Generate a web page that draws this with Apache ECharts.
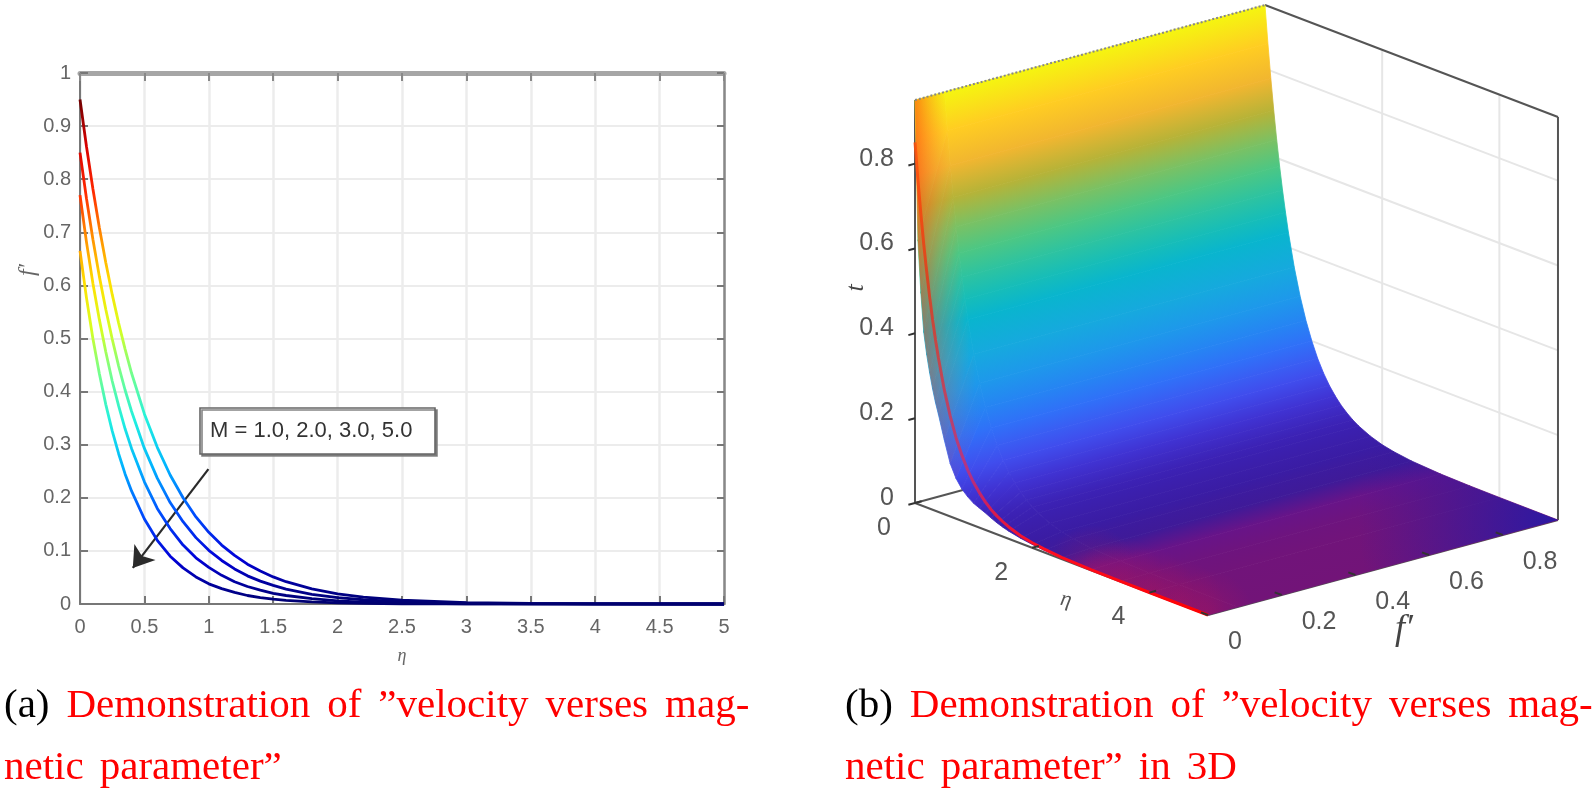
<!DOCTYPE html>
<html>
<head>
<meta charset="utf-8">
<title>velocity verses magnetic parameter</title>
<style>
  html, body { margin: 0; padding: 0; background: #fff; }
  #chart, #captions { position: absolute; left: 0; top: 0; width: 1594px; height: 793px; }
  /* the source figure is a soft, enlarged raster */
  #chart { filter: blur(0.7px); }
</style>
<script src="https://cdn.jsdelivr.net/npm/echarts@6/dist/echarts.min.js"></script>
</head>
<body>
<div id="chart"></div>
<div id="captions"></div>
<script>
// values
var etaGrid = [0, 0.05, 0.1, 0.15, 0.2, 0.25, 0.3, 0.35, 0.4, 0.5, 0.6, 0.7, 0.8, 0.9, 1, 1.1, 1.2, 1.3, 1.4, 1.5, 1.6, 1.8, 2, 2.2, 2.5, 3, 3.5, 4, 5];
var velocityM1 = [0.95, 0.862, 0.782, 0.709, 0.643, 0.583, 0.529, 0.48, 0.435, 0.358, 0.295, 0.243, 0.2, 0.164, 0.135, 0.111, 0.0915, 0.075, 0.062, 0.051, 0.042, 0.0285, 0.019, 0.013, 0.0072, 0.0027, 0.001, 0.0004, 0];
var velocityM2 = [0.85, 0.764, 0.687, 0.617, 0.555, 0.499, 0.448, 0.403, 0.363, 0.293, 0.237, 0.191, 0.155, 0.125, 0.101, 0.082, 0.066, 0.053, 0.043, 0.035, 0.028, 0.018, 0.012, 0.008, 0.004, 0.0014, 0.0005, 0.0002, 0];
var velocityM3 = [0.77, 0.682, 0.604, 0.536, 0.475, 0.42, 0.373, 0.33, 0.293, 0.23, 0.18, 0.142, 0.111, 0.087, 0.069, 0.054, 0.042, 0.033, 0.026, 0.02, 0.016, 0.01, 0.006, 0.0037, 0.0018, 0.0005, 0.0002, 0.0001, 0];
var velocityM5 = [0.665, 0.577, 0.5, 0.434, 0.376, 0.326, 0.283, 0.245, 0.213, 0.16, 0.12, 0.09, 0.068, 0.051, 0.038, 0.029, 0.022, 0.016, 0.012, 0.009, 0.007, 0.004, 0.002, 0.0013, 0.0005, 0.0002, 0.0001, 0, 0];
// left rim of the 3D surface, drops faster than the rest
var surfaceRim = [0.95, 0.62, 0.5, 0.41, 0.36, 0.32, 0.285, 0.255, 0.23, 0.175, 0.125, 0.095, 0.075, 0.062, 0.052, 0.046, 0.04, 0.033, 0.027, 0.022, 0.018, 0.012, 0.008, 0.005, 0.003, 0.001, 0.0005, 0.0002, 0];

var tTicks = [0, 0.2, 0.4, 0.6, 0.8];
var etaTicks = [0, 2, 4];
var fTicks = [0, 0.2, 0.4, 0.6, 0.8];
var etaMax = 5;
var fMax = 0.95;
var tMax = 0.95;
var fRimEnd = 0.08;

var arrowFrom = [0.997, 0.254];
var arrowTo = [0.41, 0.068];

// line colours by value on the left plot
var jetColors = ["#00006e", "#0000d8", "#0050ff", "#00b4ff", "#20f0e0", "#70ff90", "#d8ff20", "#ffe000", "#ff9000", "#ff2800", "#d80000", "#700000"];

// surface colours by height
var surfaceStopT = [0, 0.0027, 0.0072, 0.019, 0.05, 0.09, 0.14, 0.2, 0.27, 0.35, 0.43, 0.5, 0.59, 0.65, 0.72, 0.8, 0.87, 0.95];
var surfaceStopColor = ["#721478", "#681488", "#3f1a98", "#3a1ca4", "#3c22b4", "#4032d2", "#4050f0", "#3070f8", "#2090f0", "#18a8e0", "#08b4d0", "#1cc0b0", "#50c880", "#80c060", "#c0b030", "#ffb830", "#ffd020", "#f5f510"];

// soft reddish patches along the near edge of the floor
var redTintEta = [3, 3.5, 4, 4.5, 5];

// 3D box, drawn on a flat helper grid
var boxOrigin = [915, 503];
var etaStep = [58.6, 22.4];
var fStep = [368.4, -100];
var tStep = [0, -424.2];

function project(eta, f, t) {
  return [
    boxOrigin[0] + eta * etaStep[0] + f * fStep[0] + t * tStep[0],
    boxOrigin[1] + eta * etaStep[1] + f * fStep[1] + t * tStep[1]
  ];
}

function hexToRgb(h) {
  return [parseInt(h.substr(1, 2), 16), parseInt(h.substr(3, 2), 16), parseInt(h.substr(5, 2), 16)];
}

function surfaceColor(t) {
  var k = 0;
  while (k < surfaceStopT.length - 2 && t > surfaceStopT[k + 1]) {
    k++;
  }
  var r = (t - surfaceStopT[k]) / (surfaceStopT[k + 1] - surfaceStopT[k]);
  r = Math.max(0, Math.min(1, r));
  var a = hexToRgb(surfaceStopColor[k]);
  var b = hexToRgb(surfaceStopColor[k + 1]);
  return "rgb(" + Math.round(a[0] + (b[0] - a[0]) * r) + "," + Math.round(a[1] + (b[1] - a[1]) * r) + "," + Math.round(a[2] + (b[2] - a[2]) * r) + ")";
}

function zip(xs, ys) {
  return xs.map(function (x, i) {
    return [x, ys[i]];
  });
}

function polygon(points, fill, stroke) {
  return {
    type: "polygon",
    shape: { points: points },
    style: { fill: fill, stroke: stroke === undefined ? fill : stroke, lineWidth: 0.8 }
  };
}

// unit vector at right angle to a box direction
function normalOf(step) {
  var len = Math.sqrt(step[0] * step[0] + step[1] * step[1]);
  return [-step[1] / len, step[0] / len];
}

// the rim takes its colour from the same bands as the main part, as one long gradient
function rimGradient(api) {
  var n = normalOf(fStep);
  var start = api.coord(project(0, fRimEnd, velocityM1[0]));
  var dist = etaGrid.map(function (e, i) {
    var p = api.coord(project(e, fRimEnd, velocityM1[i]));
    return (p[0] - start[0]) * n[0] + (p[1] - start[1]) * n[1];
  });
  var total = dist[dist.length - 1];
  var stops = etaGrid.map(function (e, i) {
    return { offset: Math.min(1, Math.max(0, dist[i] / total)), color: surfaceColor(velocityM1[i]) };
  });
  return new echarts.graphic.LinearGradient(start[0], start[1], start[0] + n[0] * total, start[1] + n[1] * total, stops, true);
}

function renderRim(params, api) {
  var i = api.value(0);
  var ra = api.coord(project(etaGrid[i], 0, surfaceRim[i]));
  var rd = api.coord(project(etaGrid[i + 1], 0, surfaceRim[i + 1]));
  var a = api.coord(project(etaGrid[i], fRimEnd, velocityM1[i]));
  var d = api.coord(project(etaGrid[i + 1], fRimEnd, velocityM1[i + 1]));
  return polygon([ra, a, d, rd], rimGradient(api));
}

// one strip of the surface between two neighbouring eta values
function renderSurface(params, api) {
  var i = api.value(0);
  var e0 = etaGrid[i], e1 = etaGrid[i + 1];
  var t0 = velocityM1[i], t1 = velocityM1[i + 1];
  var a = api.coord(project(e0, fRimEnd, t0));
  var b = api.coord(project(e0, fMax, t0));
  var c = api.coord(project(e1, fMax, t1));
  var d = api.coord(project(e1, fRimEnd, t1));
  var n = normalOf(fStep);
  var dist = (d[0] - a[0]) * n[0] + (d[1] - a[1]) * n[1];
  var grad = new echarts.graphic.LinearGradient(a[0], a[1], a[0] + n[0] * dist, a[1] + n[1] * dist, [
    { offset: 0, color: surfaceColor(t0) },
    { offset: 1, color: surfaceColor(t1) }
  ], true);
  return polygon([a, b, c, d], grad);
}

// orange haze on the upper rim
function renderRimHaze(params, api) {
  var i = api.value(0);
  var strength = 0.62 * (1 - etaGrid[i] / 0.7);
  if (strength <= 0) {
    return null;
  }
  var ra = api.coord(project(etaGrid[i], 0, surfaceRim[i]));
  var rd = api.coord(project(etaGrid[i + 1], 0, surfaceRim[i + 1]));
  var a = api.coord(project(etaGrid[i], fRimEnd, velocityM1[i]));
  var d = api.coord(project(etaGrid[i + 1], fRimEnd, velocityM1[i + 1]));
  var grad = new echarts.graphic.LinearGradient(ra[0], 0, ra[0] + 32, 0, [
    { offset: 0, color: "rgba(255,70,15," + strength + ")" },
    { offset: 1, color: "rgba(255,120,40,0)" }
  ], true);
  return polygon([ra, a, d, rd], grad, null);
}

// round tint on the floor part of the surface, cut off at its edges
function floorPatch(eta, f, radius, rgb, alpha) {
  return function (params, api) {
    var near = [], far = [];
    etaGrid.forEach(function (e, i) {
      if (e >= 1.6) {
        near.push(api.coord(project(e, 0, velocityM1[i])));
        far.push(api.coord(project(e, fMax, velocityM1[i])));
      }
    });
    var c = api.coord(project(eta, f, 0));
    var grad = new echarts.graphic.RadialGradient(c[0], c[1], radius, [
      { offset: 0, color: "rgba(" + rgb + "," + alpha + ")" },
      { offset: 1, color: "rgba(" + rgb + ",0)" }
    ], true);
    return polygon(near.concat(far.reverse()), grad, null);
  };
}

// walls and edges of the box, given in eta / f' / t
var backGrid = [];
etaTicks.slice(1).forEach(function (e) {
  backGrid.push([[e, fMax, 0], [e, fMax, tMax]]);
});
tTicks.slice(1).forEach(function (t) {
  backGrid.push([[0, fMax, t], [etaMax, fMax, t]]);
});
var boxEdges = [
  [[0, 0, 0], [0, 0, tMax]],
  [[0, fMax, tMax], [etaMax, fMax, tMax]],
  [[etaMax, fMax, 0], [etaMax, fMax, tMax]],
  [[0, 0, 0], [etaMax, 0, 0]],
  [[etaMax, 0, 0], [etaMax, fMax, 0]],
  [[0, 0, 0], [0, fMax, 0]]
];

function renderSegments(list, color, width, dash) {
  return function (params, api) {
    var s = list[api.value(0)];
    var p = api.coord(project(s[0][0], s[0][1], s[0][2]));
    var q = api.coord(project(s[1][0], s[1][1], s[1][2]));
    return {
      type: "line",
      shape: { x1: p[0], y1: p[1], x2: q[0], y2: q[1] },
      style: { stroke: color, lineWidth: width, lineDash: dash || null }
    };
  };
}

// tick marks and labels of the box
var boxLabels = [];
var boxTicks = [];
tTicks.forEach(function (t) {
  boxLabels.push({ text: t === 0 ? "0" : t.toFixed(1), at: [0, 0, t], dx: -21, dy: -5, align: "right" });
  boxTicks.push([[0, 0, t], [0, -0.018, t]]);
});
etaTicks.forEach(function (e) {
  boxLabels.push({ text: String(e), at: [e, 0, 0], dx: -31, dy: 25, align: "center" });
  boxTicks.push([[e, 0, 0], [e, 0.018, 0]]);
});
fTicks.forEach(function (f) {
  boxLabels.push({ text: f === 0 ? "0" : f.toFixed(1), at: [etaMax, f, 0], dx: 20, dy: 27, align: "left" });
  boxTicks.push([[etaMax, f, 0], [etaMax - 0.12, f, 0]]);
});

function renderBoxLabel(params, api) {
  var l = boxLabels[api.value(0)];
  var p = api.coord(project(l.at[0], l.at[1], l.at[2]));
  return {
    type: "text",
    x: p[0] + l.dx,
    y: p[1] + l.dy,
    style: { text: l.text, fill: "#555", font: '25px "Liberation Sans"', textAlign: l.align, textVerticalAlign: "middle" }
  };
}

function indexData(list) {
  return list.map(function (v, i) {
    return [i, 0];
  });
}

function flatSeries(name, list, render, z) {
  return {
    name: name,
    type: "custom",
    coordinateSystem: "cartesian2d",
    xAxisIndex: 2,
    yAxisIndex: 2,
    silent: true,
    clip: false,
    z: z,
    data: indexData(list),
    renderItem: render
  };
}

function curveSeries(name, values) {
  return {
    name: name,
    type: "line",
    xAxisIndex: 0,
    yAxisIndex: 0,
    data: zip(etaGrid, values),
    showSymbol: false,
    clip: false,
    lineStyle: { width: 2.8 },
    silent: true,
    z: 5
  };
}

var m1Series = curveSeries("M = 1.0", velocityM1);
m1Series.markLine = {
  silent: true,
  symbol: ["none", "arrow"],
  symbolSize: 20,
  label: { show: false },
  lineStyle: { color: "#2a2a2a", width: 2.2, type: "solid" },
  data: [[{ coord: arrowFrom }, { coord: arrowTo }]]
};

// red curve lying on the surface, same values as the M = 2.0 curve
var redLine = {
  name: "surface curve",
  type: "line",
  xAxisIndex: 2,
  yAxisIndex: 2,
  data: velocityM2.map(function (v, i) {
    return project(etaGrid[i], 0, v);
  }),
  showSymbol: false,
  silent: true,
  z: 8,
  lineStyle: {
    width: 3,
    color: new echarts.graphic.LinearGradient(0, 0, 0, 1, [
      { offset: 0, color: "rgba(255,80,10,0.85)" },
      { offset: 0.3, color: "rgba(240,45,15,0.75)" },
      { offset: 0.7, color: "rgba(225,40,90,0.7)" },
      { offset: 0.85, color: "rgba(255,15,35,1)" },
      { offset: 1, color: "rgba(255,0,0,1)" }
    ])
  }
};

var serif = '"Liberation Serif", serif';
var richCaption = {
  k: { color: "#000", fontFamily: serif, fontSize: 41, fontWeight: "normal" },
  r: { color: "#f00", fontFamily: serif, fontSize: 41, fontWeight: "normal" },
  g: { fontFamily: serif, fontSize: 41, width: 17 },
  h: { fontFamily: serif, fontSize: 41, width: 16 }
};

function caption(text, left, top) {
  return { text: text, left: left, top: top, padding: 0, textStyle: { fontWeight: "normal", rich: richCaption } };
}

var line1 = "{k|KEY}{g| }{r|Demonstration}{g| }{r|of}{g| }{r|\u201dvelocity}{g| }{r|verses}{g| }{r|mag-}";
var line2 = "{r|netic}{h| }{r|parameter\u201d}";

var chart = echarts.init(document.getElementById("chart"));
var captions = echarts.init(document.getElementById("captions"));

captions.setOption({
  animation: false,
  title: [
    caption(line1.replace("KEY", "(a)"), 4, 686),
    caption(line2, 4, 748),
    caption(line1.replace("KEY", "(b)"), 845, 686),
    caption(line2 + "{h| }{r|in}{h| }{r|3D}", 845, 748)
  ]
});

var redPatches = redTintEta.map(function (e) {
  return flatSeries("red tint " + e, [0], floorPatch(e, 0, 45, "215,20,70", 0.22), 7);
});

chart.setOption({
  animation: false,
  backgroundColor: "#fff",
  textStyle: { fontFamily: '"Liberation Sans", Arial, sans-serif' },
  grid: [
    { left: 80, top: 73, width: 644, height: 531 },
    { left: 0, top: 0, width: 1594, height: 793 }
  ],
  visualMap: {
    show: false,
    type: "continuous",
    seriesIndex: [0, 1, 2, 3],
    dimension: 1,
    min: 0,
    max: 0.95,
    inRange: { color: jetColors }
  },
  xAxis: [
    {
      type: "value", gridIndex: 0, min: 0, max: 5, interval: 0.5,
      name: "\u03b7", nameLocation: "middle", nameGap: 43,
      nameTextStyle: { color: "#666", fontSize: 18, fontStyle: "italic", fontFamily: serif },
      axisLine: { onZero: false, lineStyle: { color: "#777", width: 2 } },
      axisTick: { inside: true, length: 8, lineStyle: { color: "#777", width: 2 } },
      axisLabel: { color: "#666", fontSize: 20, margin: 13 },
      splitLine: { show: true, lineStyle: { color: "#ececec", width: 2.5 } }
    },
    {
      type: "value", gridIndex: 0, position: "top", min: 0, max: 5, interval: 0.5,
      axisLine: { onZero: false, lineStyle: { color: "#a6a6a6", width: 5 } },
      axisTick: { inside: true, length: 8, lineStyle: { color: "#888", width: 2 } },
      axisLabel: { show: false },
      splitLine: { show: false }
    },
    { type: "value", gridIndex: 1, min: 0, max: 1594, show: false, splitLine: { show: false } }
  ],
  yAxis: [
    {
      type: "value", gridIndex: 0, min: 0, max: 1, interval: 0.1,
      axisLine: { show: true, onZero: false, lineStyle: { color: "#777", width: 2 } },
      axisTick: { show: true, inside: true, length: 8, lineStyle: { color: "#777", width: 2 } },
      axisLabel: { color: "#666", fontSize: 20, margin: 9 },
      splitLine: { show: true, lineStyle: { color: "#ececec", width: 2 } }
    },
    {
      type: "value", gridIndex: 0, position: "right", min: 0, max: 1, interval: 0.1,
      axisLine: { show: true, onZero: false, lineStyle: { color: "#888", width: 2.5 } },
      axisTick: { show: true, inside: true, length: 7, lineStyle: { color: "#777", width: 2 } },
      axisLabel: { show: false },
      splitLine: { show: false }
    },
    { type: "value", gridIndex: 1, min: 0, max: 793, inverse: true, show: false, splitLine: { show: false } }
  ],
  graphic: [
    // note box on the left plot
    {
      type: "rect", z: 20,
      shape: { x: 200, y: 408, width: 235, height: 46 },
      style: { fill: "#fff", stroke: "#666", lineWidth: 1.6, shadowColor: "rgba(120,120,120,0.9)", shadowOffsetX: 2, shadowOffsetY: 2 }
    },
    {
      type: "text", z: 21, x: 210, y: 431,
      style: { text: "M = 1.0, 2.0, 3.0, 5.0", fill: "#333", font: '22px "Liberation Sans"', textVerticalAlign: "middle" }
    },
    // axis names
    {
      type: "text", z: 21, x: 28, y: 270, rotation: Math.PI / 2,
      style: { text: "f\u2032", fill: "#666", font: 'italic 24px "Liberation Serif"', textAlign: "center", textVerticalAlign: "middle" }
    },
    {
      type: "text", z: 21, x: 856, y: 288, rotation: Math.PI / 2,
      style: { text: "t", fill: "#444", font: 'italic 26px "Liberation Serif"', textAlign: "center", textVerticalAlign: "middle" }
    },
    {
      type: "text", z: 21, x: 1066, y: 600, rotation: -0.2,
      style: { text: "\u03b7", fill: "#555", font: 'italic 22px "Liberation Serif"', textAlign: "center", textVerticalAlign: "middle" }
    },
    {
      type: "text", z: 21, x: 1404, y: 630,
      style: { text: "f\u2032", fill: "#444", font: 'italic 36px "Liberation Serif"', textAlign: "center", textVerticalAlign: "middle" }
    }
  ],
  series: [
    m1Series,
    curveSeries("M = 2.0", velocityM2),
    curveSeries("M = 3.0", velocityM3),
    curveSeries("M = 5.0", velocityM5),
    flatSeries("back grid", backGrid, renderSegments(backGrid, "#e6e6e6", 2), 2),
    flatSeries("box edges", boxEdges, renderSegments(boxEdges, "#555", 2), 3),
    flatSeries("rim", etaGrid.slice(0, -1), renderRim, 6),
    flatSeries("surface", etaGrid.slice(0, -1), renderSurface, 6),
    flatSeries("rim haze", etaGrid.slice(0, -1), renderRimHaze, 7),
    flatSeries("blue floor tint", [0], floorPatch(etaMax, fMax, 200, "40,25,165", 0.95), 7),
    redLine,
    flatSeries("top edge", [0], renderSegments([[[0, 0, tMax], [0, fMax, tMax]]], "#888", 2, [2, 2]), 9),
    flatSeries("box ticks", boxTicks, renderSegments(boxTicks, "#333", 2), 9),
    flatSeries("box labels", boxLabels, renderBoxLabel, 10)
  ].concat(redPatches)
});
</script>
</body>
</html>
